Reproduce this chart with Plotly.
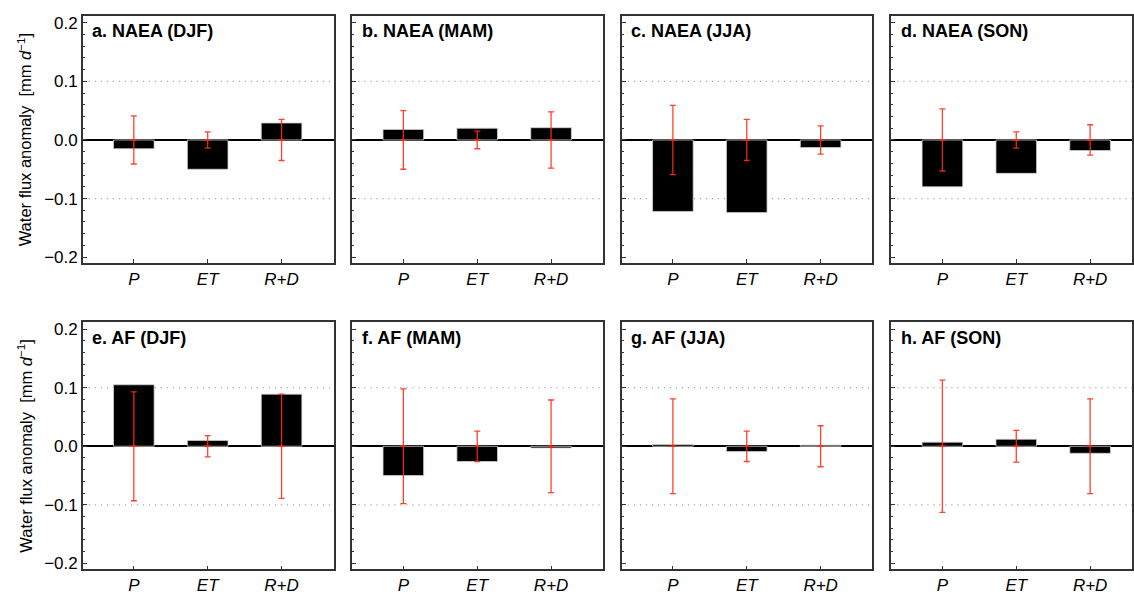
import plotly.graph_objects as go
from plotly.subplots import make_subplots

categories = ["P", "ET", "R+D"]
tick_text = ["<i>P</i>", "<i>ET</i>", "<i>R+D</i>"]

panel_titles = ["a. NAEA (DJF)", "b. NAEA (MAM)", "c. NAEA (JJA)", "d. NAEA (SON)",
                "e. AF (DJF)", "f. AF (MAM)", "g. AF (JJA)", "h. AF (SON)"]

# bar values (mm/d)
naea_djf = [-0.015, -0.050, 0.029]
naea_mam = [0.018, 0.020, 0.021]
naea_jja = [-0.122, -0.124, -0.013]
naea_son = [-0.080, -0.057, -0.018]
af_djf = [0.105, 0.010, 0.089]
af_mam = [-0.050, -0.026, -0.003]
af_jja = [0.003, -0.009, 0.002]
af_son = [0.007, 0.012, -0.012]

# error ranges (symmetric around zero)
naea_djf_err = [0.041, 0.014, 0.035]
naea_mam_err = [0.050, 0.015, 0.048]
naea_jja_err = [0.059, 0.035, 0.024]
naea_son_err = [0.053, 0.014, 0.026]
af_djf_err = [0.093, 0.018, 0.089]
af_mam_err = [0.098, 0.026, 0.079]
af_jja_err = [0.081, 0.026, 0.035]
af_son_err = [0.113, 0.027, 0.081]

values = [naea_djf, naea_mam, naea_jja, naea_son, af_djf, af_mam, af_jja, af_son]
errors = [naea_djf_err, naea_mam_err, naea_jja_err, naea_son_err,
          af_djf_err, af_mam_err, af_jja_err, af_son_err]

W, H = 1134, 595
FONT = "Liberation Sans, Arial, Helvetica, sans-serif"
RED = "rgba(255,45,20,0.9)"

fig = make_subplots(rows=2, cols=4)

# pixel boxes of panels
col_px = [(83, 335), (353, 604), (623, 874), (893, 1134)]
row_px = [(14, 265), (325, 576)]

for i in range(8):
    r, c = i // 4 + 1, i % 4 + 1
    zeros = [0] * len(categories)
    fig.add_trace(go.Bar(x=categories, y=values[i], width=0.55,
                         marker=dict(color="black", line=dict(color="#d0d0d0", width=0.8)),
                         showlegend=False), row=r, col=c)
    fig.add_trace(go.Scatter(x=categories, y=zeros, mode="markers",
                             marker=dict(symbol="line-ew", size=5, line=dict(color=RED, width=1.5)),
                             error_y=dict(type="data", array=errors[i], color=RED, thickness=1.3, width=3),
                             showlegend=False), row=r, col=c)

    x0, x1 = col_px[c - 1]
    y0, y1 = row_px[r - 1]
    unit = 74.0
    xmax = -0.69 + (x1 - x0) / unit
    fig.update_xaxes(domain=[x0 / W, x1 / W], range=[-0.69, xmax],
                     tickvals=categories, ticktext=tick_text,
                     ticks="inside", ticklen=4, tickcolor="#333",
                     showline=True, linecolor="#333", linewidth=1.5, mirror=True,
                     showgrid=False, tickfont=dict(size=17, color="black", family=FONT),
                     row=r, col=c)
    fig.update_yaxes(domain=[1 - y1 / H, 1 - y0 / H], range=[-0.21, 0.212],
                     tickvals=[-0.2, -0.1, 0.0, 0.1, 0.2], tickformat=".1f",
                     showticklabels=(c == 1),
                     ticks="inside", ticklen=4, tickcolor="#333",
                     minor=dict(ticks="inside", ticklen=2, dtick=0.02, tick0=0, tickcolor="#333"),
                     showline=True, linecolor="#333", linewidth=1.5, mirror=True,
                     showgrid=False, zeroline=True, zerolinecolor="black", zerolinewidth=1.5,
                     tickfont=dict(size=17, color="black", family=FONT),
                     row=r, col=c)
    xref = "x" if i == 0 else "x%d" % (i + 1)
    yref = "y" if i == 0 else "y%d" % (i + 1)
    # dotted reference lines at +/-0.1
    for yv in (0.1, -0.1):
        fig.add_shape(type="line", xref=xref + " domain", yref=yref, x0=0, x1=1, y0=yv, y1=yv,
                      line=dict(color="#999", width=1.2, dash="1px,5px"), layer="below")
    fig.add_annotation(text="<b>%s</b>" % panel_titles[i], xref=xref + " domain", yref=yref + " domain",
                       x=0.03, y=0.985, xanchor="left", yanchor="top", showarrow=False,
                       font=dict(size=18, color="black", family=FONT))

for yc in (1 - (14 + 265) / 2 / H, 1 - (325 + 576) / 2 / H):
    fig.add_annotation(text="Water flux anomaly  [mm <i>d</i><sup>\u22121</sup>]",
                       xref="paper", yref="paper", x=25 / W, y=yc, textangle=-90,
                       xanchor="center", yanchor="middle", showarrow=False,
                       font=dict(size=16.5, color="black", family=FONT))

fig.update_layout(width=W, height=H, margin=dict(l=0, r=0, t=0, b=0),
                  plot_bgcolor="white", paper_bgcolor="white",
                  font=dict(family=FONT, color="black"), bargap=0.45)

fig.write_html("out.html", config={"displayModeBar": False},
               post_script="document.body.style.margin='0';document.body.style.overflow='hidden';")
